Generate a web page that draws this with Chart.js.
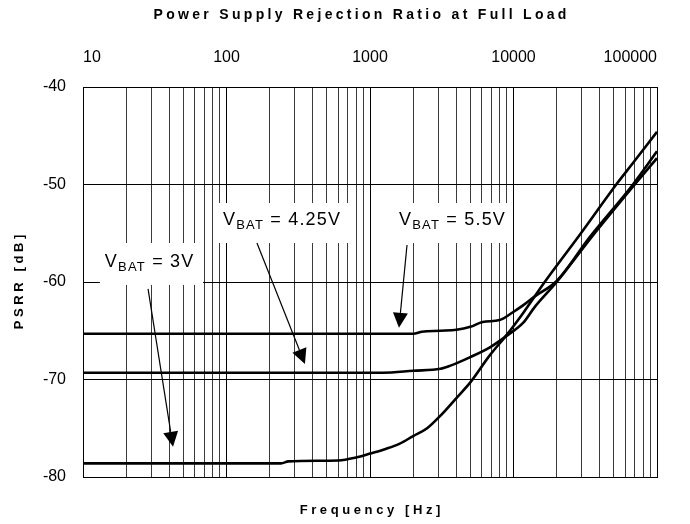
<!DOCTYPE html>
<html>
<head>
<meta charset="utf-8">
<script src="https://cdn.jsdelivr.net/npm/chart.js@4.4.1/dist/chart.umd.min.js"></script>
<style>
  html, body { margin: 0; padding: 0; background: #fff; }
</style>
</head>
<body>
<canvas id="psrrChart" width="690" height="524"></canvas>
<script>
// x tick labels (decades) and y ticks
const xDecades = [10, 100, 1000, 10000, 100000];
const yTicks = [-80, -70, -60, -50, -40];

// VBAT = 3V
const freq3V = [10, 240, 270, 600, 800, 1000, 1300, 1600, 2000, 2500, 3100, 4000, 5000, 6850, 9000, 11650, 16500, 29500, 52000, 68000, 100000];
const psrr3V = [-78.6, -78.6, -78.4, -78.3, -78.0, -77.6, -77.1, -76.6, -75.8, -75.0, -73.7, -71.9, -70.3, -67.5, -65.4, -63.2, -60.0, -55.0, -50.0, -47.8, -44.6];

// VBAT = 4.25V
const freq425V = [10, 1230, 2000, 3100, 3600, 5000, 6850, 9000, 11650, 14000, 20000, 35000, 70000, 100000];
const psrr425V = [-69.3, -69.3, -69.1, -68.9, -68.6, -67.7, -66.7, -65.5, -64.2, -62.6, -60.0, -55.4, -50.0, -47.3];

// VBAT = 5.5V
const freq55V = [10, 2000, 2300, 3100, 4000, 5000, 6100, 8000, 9900, 11650, 14000, 20000, 34000, 68000, 100000];
const psrr55V = [-65.3, -65.3, -65.1, -65.0, -64.9, -64.6, -64.1, -63.9, -63.1, -62.4, -61.5, -59.9, -55.4, -50.0, -46.6];

const seriesLabels = ['3V', '4.25V', '5.5V'];

// callouts, anchored in data units (Hz, dB)
const callouts = [
  { text: seriesLabels[0], at: [14.2, -58.46], box: [13.1, 68.6, -56.0, -60.3], from: [28.4, -60.7], to: [42.4, -76.9] },
  { text: seriesLabels[1], at: [94.5, -54.15], box: [84.5, 721, -51.9, -56.0], from: [163, -56.0], to: [352, -68.4] },
  { text: seriesLabels[2], at: [1592, -54.15], box: [1170, 9640, -51.9, -56.0], from: [1811, -56.2], to: [1592, -64.7] }
];

const xGrid = [];
xDecades.forEach(d => {
  for (let m = 1; m <= 9; m++) {
    if (d * m <= 100000) xGrid.push(d * m);
  }
});

const toXY = (xs, ys) => xs.map((x, i) => ({ x, y: ys[i] }));
const FONT = 'Arial, "Liberation Sans", sans-serif';

function spacedText(ctx, text, x, y, size, spacing, rotate) {
  ctx.save();
  ctx.font = 'bold ' + size + 'px ' + FONT;
  ctx.letterSpacing = spacing + 'px';
  ctx.fillStyle = '#000';
  ctx.textAlign = 'left';
  ctx.textBaseline = 'alphabetic';
  const w = ctx.measureText(text).width - spacing;
  ctx.translate(x, y);
  if (rotate) ctx.rotate(-Math.PI / 2);
  ctx.fillText(text, -w / 2, 0);
  ctx.restore();
}

function vbatLabel(ctx, x, y, value) {
  ctx.save();
  ctx.fillStyle = '#000';
  ctx.textBaseline = 'alphabetic';
  ctx.textAlign = 'left';
  ctx.letterSpacing = '1.2px';
  ctx.font = '18px ' + FONT;
  ctx.fillText('V', x, y);
  let cx = x + ctx.measureText('V').width;
  ctx.font = '13px ' + FONT;
  ctx.fillText('BAT', cx, y + 4);
  cx += ctx.measureText('BAT').width;
  ctx.font = '18px ' + FONT;
  ctx.fillText(' = ' + value, cx, y);
  ctx.restore();
}

function arrow(ctx, x1, y1, x2, y2) {
  const a = Math.atan2(y2 - y1, x2 - x1);
  const len = 15, half = 7.5;
  const bx = x2 - len * Math.cos(a), by = y2 - len * Math.sin(a);
  ctx.save();
  ctx.strokeStyle = '#000';
  ctx.fillStyle = '#000';
  ctx.lineWidth = 1.2;
  ctx.beginPath();
  ctx.moveTo(x1, y1);
  ctx.lineTo(bx, by);
  ctx.stroke();
  ctx.beginPath();
  ctx.moveTo(x2, y2);
  ctx.lineTo(bx + half * Math.sin(a), by - half * Math.cos(a));
  ctx.lineTo(bx - half * Math.sin(a), by + half * Math.cos(a));
  ctx.closePath();
  ctx.fill();
  ctx.restore();
}

const decor = {
  id: 'decor',
  beforeDatasetsDraw(chart) {
    const { ctx, scales: { x, y } } = chart;
    ctx.save();
    ctx.fillStyle = '#fff';
    callouts.forEach(c => {
      const l = x.getPixelForValue(c.box[0]), r = x.getPixelForValue(c.box[1]);
      const t = y.getPixelForValue(c.box[2]), b = y.getPixelForValue(c.box[3]);
      ctx.fillRect(l, t, r - l, b - t);
    });
    ctx.restore();
  },
  afterDatasetsDraw(chart) {
    const { ctx, chartArea: a, scales: { x, y } } = chart;
    callouts.forEach(c => {
      vbatLabel(ctx, x.getPixelForValue(c.at[0]), y.getPixelForValue(c.at[1]), c.text);
      arrow(ctx, x.getPixelForValue(c.from[0]), y.getPixelForValue(c.from[1]),
                 x.getPixelForValue(c.to[0]), y.getPixelForValue(c.to[1]));
    });
    ctx.save();
    ctx.strokeStyle = '#000';
    ctx.lineWidth = 1;
    ctx.strokeRect(Math.round(a.left) + 0.5, Math.round(a.top) + 0.5, Math.round(a.width), Math.round(a.height));
    ctx.restore();

    const cx = (a.left + a.right) / 2;
    spacedText(ctx, 'Power Supply Rejection Ratio at Full Load', cx - 10, 19, 14, 3.3, false);
    spacedText(ctx, 'Frequency [Hz]', cx, 514, 13, 3.6, false);
    spacedText(ctx, 'PSRR [dB]', 23, (a.top + a.bottom) / 2, 13, 3.6, true);
  }
};

const line = (data) => ({
  data,
  borderColor: '#000',
  borderWidth: 2.6,
  pointRadius: 0,
  fill: false,
  cubicInterpolationMode: 'monotone'
});

new Chart(document.getElementById('psrrChart').getContext('2d'), {
  type: 'line',
  data: {
    datasets: [
      line(toXY(freq3V, psrr3V)),
      line(toXY(freq425V, psrr425V)),
      line(toXY(freq55V, psrr55V))
    ]
  },
  options: {
    responsive: false,
    animation: false,
    devicePixelRatio: 1,
    layout: { padding: { left: 0, top: 0, right: 33, bottom: 47 } },
    plugins: { legend: { display: false }, title: { display: false }, tooltip: { enabled: false } },
    scales: {
      x: {
        type: 'logarithmic',
        position: 'top',
        min: 10,
        max: 100000,
        afterBuildTicks: s => { s.ticks = xGrid.map(v => ({ value: v })); },
        afterFit: s => { s.height = 87; s.paddingLeft = 0; s.paddingRight = 0; },
        ticks: {
          autoSkip: false,
          maxRotation: 0,
          align: 'inner',
          padding: 20,
          color: '#000',
          font: { family: FONT, size: 16 },
          callback: v => xDecades.includes(v) ? String(v) : ''
        },
        grid: {
          drawTicks: false,
          lineWidth: 1,
          color: c => (c.tick && xDecades.includes(c.tick.value)) ? '#000' : '#3a3a3a'
        },
        border: { color: '#000', width: 1 }
      },
      y: {
        min: -80,
        max: -40,
        afterBuildTicks: s => { s.ticks = yTicks.map(v => ({ value: v })); },
        afterFit: s => { s.width = 83; },
        ticks: {
          padding: 17,
          color: '#000',
          font: { family: FONT, size: 16 }
        },
        grid: { drawTicks: false, color: '#000', lineWidth: 1 },
        border: { color: '#000', width: 1 }
      }
    }
  },
  plugins: [decor]
});
</script>
</body>
</html>
